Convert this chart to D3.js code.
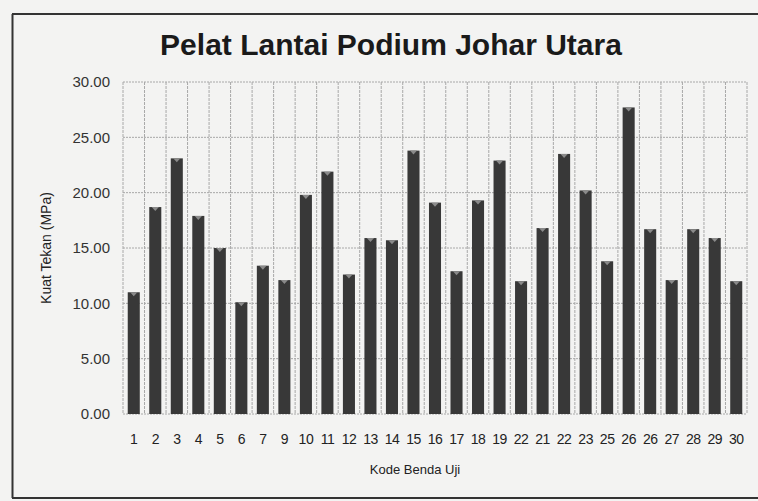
<!DOCTYPE html>
<html><head><meta charset="utf-8">
<script src="https://cdn.jsdelivr.net/npm/d3@7"></script>
<style>body{margin:0;background:#f3f3f2;}svg{display:block;}</style>
</head><body>
<script>
const labels = ["1","2","3","4","5","6","7","9","10","11","12","13","14","15","16","17","18","19","22","21","22","23","25","26","26","27","28","29","30"];
const values = [11.0,18.7,23.1,17.9,15.0,10.1,13.4,12.1,19.8,21.9,12.6,15.9,15.7,23.8,19.1,12.9,19.3,22.9,12.0,16.8,23.5,20.2,13.8,27.7,16.7,12.1,16.7,15.9,12.0];
const yTicks = [0,5,10,15,20,25,30];
const title = "Pelat Lantai Podium Johar Utara";
const xTitle = "Kode Benda Uji";
const yTitle = "Kuat Tekan (MPa)";

const W = 758, H = 501;
const m = {left:123, right:11, top:82, bottom:87};
const svg = d3.select("body").append("svg").attr("width",W).attr("height",H);
svg.append("rect").attr("width",W).attr("height",H).attr("fill","#f3f3f2");

// outer frame
svg.append("line").attr("x1",12).attr("x2",W).attr("y1",14).attr("y2",14).attr("stroke","#333").attr("stroke-width",2);
svg.append("line").attr("x1",12.5).attr("x2",12.5).attr("y1",14).attr("y2",498).attr("stroke","#333").attr("stroke-width",2);
svg.append("line").attr("x1",12).attr("x2",W).attr("y1",498).attr("y2",498).attr("stroke","#333").attr("stroke-width",2);

const idx = d3.range(values.length);
const x = d3.scaleBand().domain(idx).range([m.left, W-m.right]).paddingInner(0.44).paddingOuter(0.22);
const y = d3.scaleLinear().domain([0,30]).range([H-m.bottom, m.top]);

// grid
const g = svg.append("g");
g.selectAll(".hg").data(yTicks).enter().append("line")
  .attr("x1",m.left).attr("x2",W-m.right).attr("y1",d=>y(d)).attr("y2",d=>y(d))
  .attr("stroke","#a8a8a8").attr("stroke-dasharray","2,1").attr("stroke-width",1);
const step = x.step();
const vlines = d3.range(values.length+1).map(i => m.left + i*step);
g.selectAll(".vg").data(vlines).enter().append("line")
  .attr("x1",d=>d).attr("x2",d=>d).attr("y1",y(30)).attr("y2",y(0))
  .attr("stroke","#a8a8a8").attr("stroke-dasharray","3,1").attr("stroke-width",1);

// bars
svg.selectAll(".bar").data(values).enter().append("rect")
  .attr("x",(d,i)=>x(i)).attr("width",x.bandwidth())
  .attr("y",d=>y(d)).attr("height",d=>y(0)-y(d))
  .attr("fill","#383838");
svg.selectAll(".cap").data(values).enter().append("path")
  .attr("d",(d,i)=>{const x0=x(i), w=x.bandwidth(), t=y(d); return `M${x0+w*0.2},${t} L${x0+w/2},${t+4} L${x0+w*0.8},${t} Z`;})
  .attr("fill","#8a8a8a");

// y axis
const yAxis = d3.axisLeft(y).tickValues(yTicks).tickFormat(d3.format(".2f")).tickSize(0).tickPadding(13);
const ya = svg.append("g").attr("transform",`translate(${m.left},0)`).call(yAxis);
ya.select(".domain").remove();
ya.selectAll("text").attr("font-family","Liberation Sans, Arial, sans-serif").attr("font-size",15).attr("fill","#333");

// x axis
const xAxis = d3.axisBottom(x).tickFormat(i=>labels[i]).tickSize(0).tickPadding(20);
const xa = svg.append("g").attr("transform",`translate(0,${y(0)})`).call(xAxis);
xa.select(".domain").remove();
xa.selectAll("text").attr("font-family","Liberation Sans, Arial, sans-serif").attr("font-size",14).attr("letter-spacing","-0.5").attr("fill","#222");

// titles
svg.append("text").attr("x",391).attr("y",55).attr("text-anchor","middle")
  .attr("font-family","Liberation Sans, Arial, sans-serif").attr("font-weight","bold").attr("font-size",30).attr("fill","#1a1a1a").text(title);
svg.append("text").attr("x",415).attr("y",474).attr("text-anchor","middle")
  .attr("font-family","Liberation Sans, Arial, sans-serif").attr("font-size",13).attr("fill","#222").text(xTitle);
svg.append("text").attr("transform","translate(51,248) rotate(-90)").attr("text-anchor","middle")
  .attr("font-family","Liberation Sans, Arial, sans-serif").attr("font-size",14).attr("fill","#222").text(yTitle);
</script>
</body></html>
